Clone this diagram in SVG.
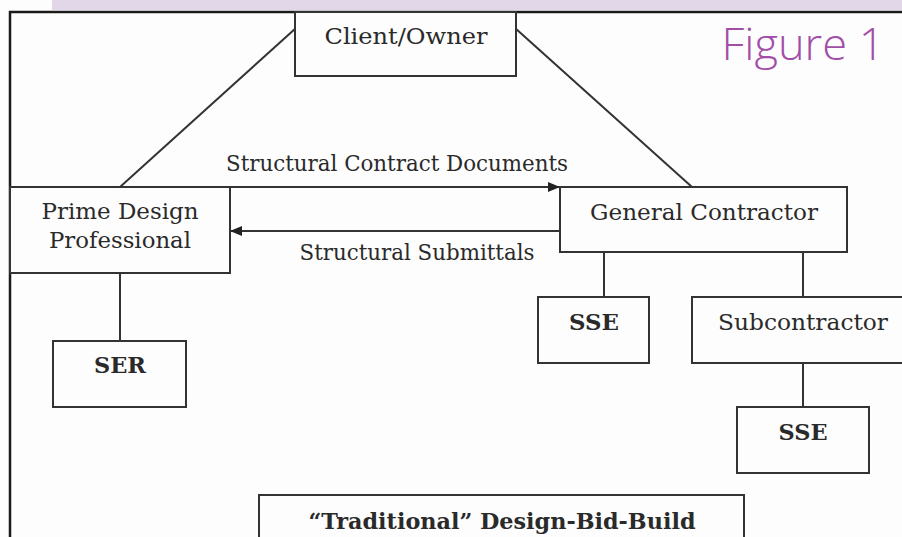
<svg xmlns="http://www.w3.org/2000/svg" width="902" height="537" viewBox="0 0 902 537">
<defs>
<style>
.box{fill:#fdfdfd;stroke:#333;stroke-width:2}
.ln{stroke:#333;stroke-width:2;fill:none}
.t{font-family:"DejaVu Serif","Liberation Serif",serif;font-size:22.5px;fill:#2a2a2a;text-anchor:middle}
.b{font-weight:bold;font-size:22px}
</style>
<marker id="ah" viewBox="0 0 12 10" refX="12" refY="5" markerWidth="12" markerHeight="10" markerUnits="userSpaceOnUse" orient="auto">
<path d="M0,0 L12,5 L0,10 Z" fill="#222"/>
</marker>
</defs>
<rect x="0" y="0" width="902" height="537" fill="#fdfdfd"/>
<rect x="52" y="0" width="850" height="10" fill="#e2d6e9"/>
<path d="M10,537 V12 H902" fill="none" stroke="#1a1a1a" stroke-width="2.5"/>
<text x="803" y="60" font-family="'Open Sans','Noto Sans',sans-serif" font-weight="300" font-size="44" fill="#a24ea9" text-anchor="middle" textLength="163" lengthAdjust="spacingAndGlyphs">Figure 1</text>
<g id="connectors">
<line class="ln" x1="296" y1="28" x2="120" y2="187"/>
<line class="ln" x1="515" y1="28" x2="692" y2="187"/>
<line class="ln" x1="230" y1="187" x2="560" y2="187" marker-end="url(#ah)"/>
<line class="ln" x1="560" y1="231" x2="230" y2="231" marker-end="url(#ah)"/>
<line class="ln" x1="120" y1="273" x2="120" y2="341"/>
<line class="ln" x1="604" y1="252" x2="604" y2="297"/>
<line class="ln" x1="803" y1="252" x2="803" y2="297"/>
<line class="ln" x1="803" y1="363" x2="803" y2="407"/>
<text class="t" x="397" y="171" textLength="342" lengthAdjust="spacingAndGlyphs">Structural Contract Documents</text>
<text class="t" x="417" y="260" textLength="235" lengthAdjust="spacingAndGlyphs">Structural Submittals</text>
</g>
<g id="client">
<rect class="box" x="295" y="12" width="221" height="64"/>
<text class="t" x="406" y="44" textLength="163" lengthAdjust="spacingAndGlyphs">Client/Owner</text>
</g>
<g id="prime">
<rect class="box" x="10" y="187" width="220" height="86"/>
<text class="t" x="120" y="219" textLength="157" lengthAdjust="spacingAndGlyphs">Prime Design</text>
<text class="t" x="120" y="248" textLength="142" lengthAdjust="spacingAndGlyphs">Professional</text>
</g>
<g id="gc">
<rect class="box" x="560" y="187" width="287" height="65"/>
<text class="t" x="704" y="220" textLength="228" lengthAdjust="spacingAndGlyphs">General Contractor</text>
</g>
<g id="ser">
<rect class="box" x="53" y="341" width="133" height="66"/>
<text class="t b" x="120" y="373" textLength="52" lengthAdjust="spacingAndGlyphs">SER</text>
</g>
<g id="sse1">
<rect class="box" x="538" y="297" width="111" height="66"/>
<text class="t b" x="594" y="330" textLength="50" lengthAdjust="spacingAndGlyphs">SSE</text>
</g>
<g id="sub">
<rect class="box" x="692" y="297" width="215" height="66"/>
<text class="t" x="803" y="330" textLength="170" lengthAdjust="spacingAndGlyphs">Subcontractor</text>
</g>
<g id="sse2">
<rect class="box" x="737" y="407" width="132" height="66"/>
<text class="t b" x="803" y="440" textLength="49" lengthAdjust="spacingAndGlyphs">SSE</text>
</g>
<g id="title">
<rect class="box" x="259" y="495" width="485" height="50"/>
<text class="t b" x="502" y="529" textLength="387" lengthAdjust="spacingAndGlyphs">“Traditional” Design-Bid-Build</text>
</g>
</svg>
